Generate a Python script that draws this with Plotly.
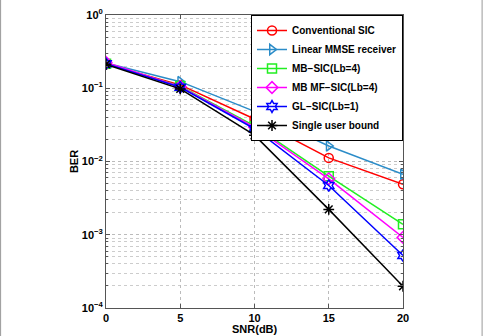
import plotly.graph_objects as go

snr = [0, 5, 10, 15, 20]
names = ["Conventional SIC", "Linear MMSE receiver", "MB\u2212SIC(Lb=4)",
         "MB MF\u2212SIC(Lb=4)", "GL\u2212SIC(Lb=1)", "Single user bound"]
conv_sic = [0.213, 0.111, 0.038, 0.0112, 0.0049]
linear_mmse = [0.222, 0.123, 0.0483, 0.0163, 0.0067]
mb_sic = [0.216, 0.107, 0.0306, 0.0063, 0.00139]
mb_mf_sic = [0.225, 0.105, 0.0295, 0.0058, 0.00092]
gl_sic = [0.216, 0.103, 0.028, 0.0047, 0.00052]
single_user = [0.212, 0.098, 0.0229, 0.00222, 0.000198]
y_tickvals = [1e-4, 1e-3, 1e-2, 1e-1, 1]
y_ticktext = ["10<sup>\u22124</sup>", "10<sup>\u22123</sup>", "10<sup>\u22122</sup>",
              "10<sup>\u22121</sup>", "10<sup>0</sup>"]
x_title = "SNR(dB)"

series = [conv_sic, linear_mmse, mb_sic, mb_mf_sic, gl_sic, single_user]
colors = ["#FF0000", "#2B8CC8", "#22EE22", "#FF00FF", "#0000FF", "#000000"]
symbols = ["circle-open", "triangle-right-open", "square-open", "diamond-open",
           "hexagram-open", "asterisk-open"]

fig = go.Figure()
for nm, ys, c, s in zip(names, series, colors, symbols):
    fig.add_trace(go.Scatter(
        x=snr, y=ys, name=nm, mode="lines+markers",
        line=dict(color=c, width=1.5),
        marker=dict(symbol=s, size=9, color=c, line=dict(color=c, width=1.5)),
    ))

PH = 336 - 15 - 28
font_fam = "Liberation Sans, Arial, sans-serif"
fig.update_layout(
    width=483, height=336,
    margin=dict(l=106, r=80, t=15, b=28),
    paper_bgcolor="white", plot_bgcolor="white",
    font=dict(family=font_fam, size=11, color="black", weight="bold"),
    showlegend=True,
    legend=dict(x=1, y=1, xanchor="right", yanchor="top",
                bordercolor="black", borderwidth=1, bgcolor="white",
                font=dict(size=10, weight="bold"),
                tracegroupgap=0, itemwidth=30),
    xaxis=dict(range=[0, 20], dtick=5, tick0=0, automargin=False,
               showline=True, linecolor="#555555", linewidth=1, mirror="ticks",
               ticks="inside", ticklen=4, tickcolor="#555555",
               showgrid=True, gridcolor="#BBBBBB", griddash="dot", gridwidth=1,
               zeroline=False, ticklabelstandoff=0,
               tickfont=dict(size=11, weight="bold")),
    yaxis=dict(type="log", range=[-4, 0], automargin=False,
               tickvals=y_tickvals, ticktext=y_ticktext,
               showline=True, linecolor="#555555", linewidth=1, mirror="ticks",
               ticks="inside", ticklen=4, tickcolor="#555555",
               showgrid=True, gridcolor="#BBBBBB", griddash="dot", gridwidth=1,
               minor=dict(dtick="D1", showgrid=True, gridcolor="#CCCCCC",
                          griddash="dot", ticks="inside", ticklen=2, tickcolor="#555555"),
               zeroline=False,
               title=dict(text="BER", standoff=0, font=dict(size=11, weight="bold")),
               tickfont=dict(size=11, weight="bold")),
)

fig.add_annotation(text=x_title, xref="paper", yref="paper", x=0.5, y=-28 / PH,
                   xanchor="center", yanchor="bottom", showarrow=False, borderpad=0,
                   font=dict(size=11, weight="bold"))

# thin grey frame around the whole image
fig.add_shape(type="rect", xref="paper", yref="paper",
              x0=-106/297 + 0.002, x1=(483-106)/297 - 0.003,
              y0=-28/PH - 0.1, y1=(336-15)/PH - 0.002,
              line=dict(color="#999999", width=1), layer="below")

fig.write_html("out.html")
